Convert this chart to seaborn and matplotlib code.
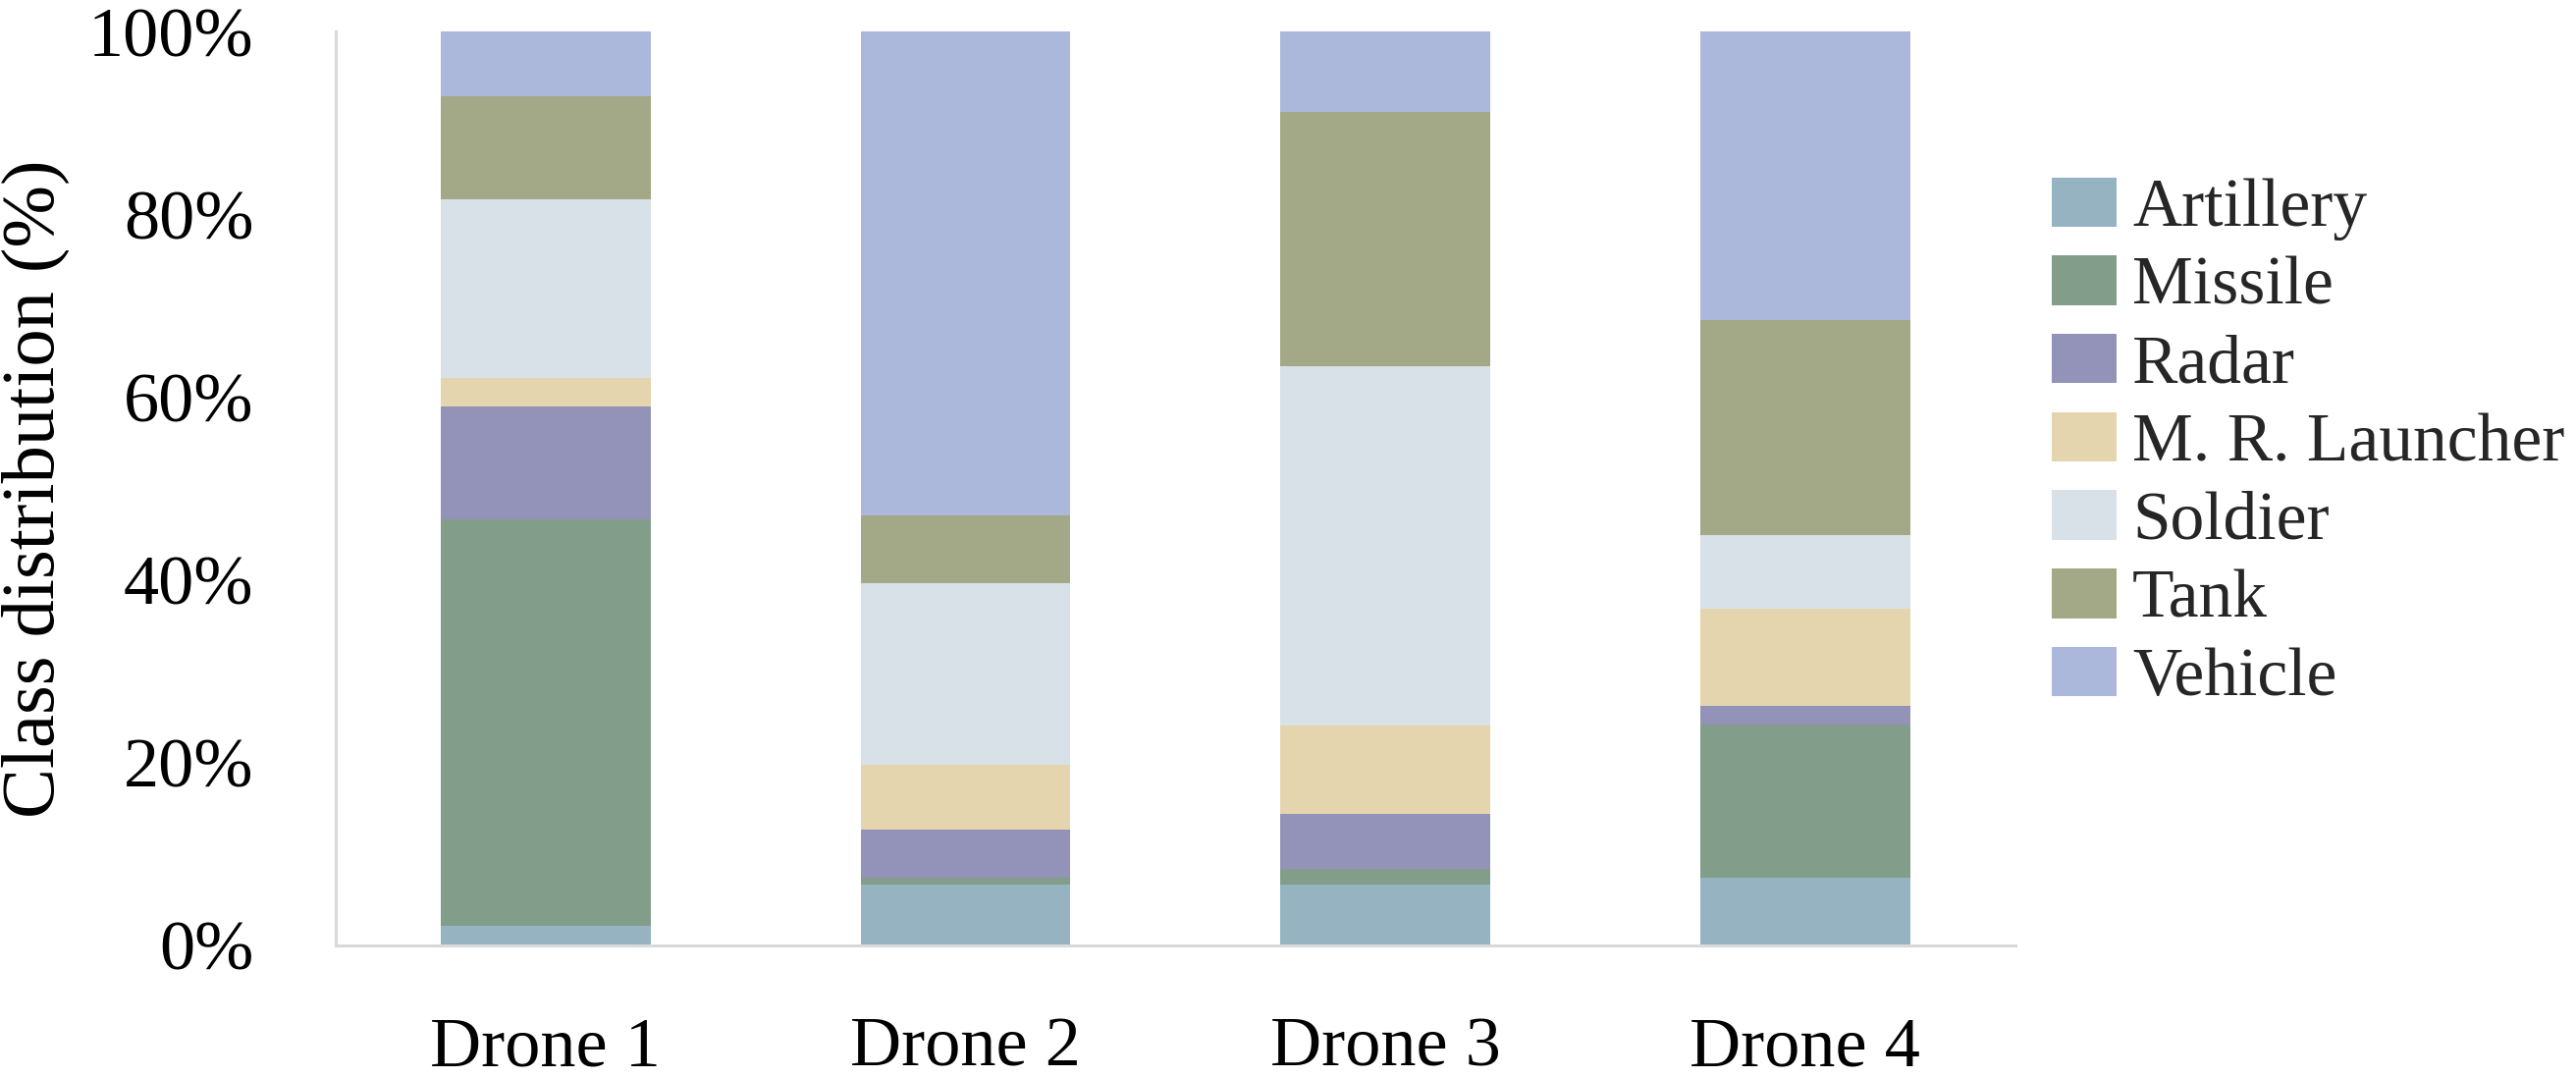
import numpy as np
import pandas as pd
import matplotlib
matplotlib.use("Agg")
import matplotlib.pyplot as plt
import seaborn as sns
from matplotlib.patches import Patch
from matplotlib.ticker import FuncFormatter

# 数据
drones = ["Drone 1", "Drone 2", "Drone 3", "Drone 4"]
classes = ["Artillery", "Missile", "Radar", "M. R. Launcher", "Soldier", "Tank", "Vehicle"]
artillery = [2.1, 6.7, 6.7, 7.4]
missile = [44.5, 0.7, 1.7, 16.8]
radar = [12.4, 5.3, 6.0, 2.0]
launcher = [3.1, 7.1, 9.7, 10.6]
soldier = [19.5, 19.8, 39.3, 8.1]
tank = [11.3, 7.4, 27.8, 23.5]
vehicle = [7.1, 53.0, 8.8, 31.6]
colors = ["#95B3C0", "#829E8B", "#9393B9", "#E5D5AF", "#D7E1E7", "#A3A886", "#ABB8DB"]

df = pd.DataFrame(
    [artillery, missile, radar, launcher, soldier, tank, vehicle],
    index=classes, columns=drones,
)
# 归一化到100%, 然后累加
df = df / df.sum(axis=0) * 100
cum = df.cumsum(axis=0)

sns.set_theme(style="white")
plt.rcParams["font.family"] = ["Liberation Serif", "DejaVu Serif"]

fs = 52
fig = plt.figure(figsize=(26.24, 10.97), dpi=100)
ax = fig.add_axes([0.1303, 0.1222, 0.652, 0.8486])

# 从上往下画累计柱, 后画的盖住前面的
for cls, col in reversed(list(zip(classes, colors))):
    sns.barplot(x=drones, y=cum.loc[cls].values, color=col, saturation=1,
                width=0.5, linewidth=0, ax=ax)

ax.set_xlim(-0.5, 3.5)
ax.set_ylim(0, 100)
ax.set_yticks(np.arange(0, 101, 20))
ax.yaxis.set_major_formatter(FuncFormatter(lambda v, p: f"{v:.0f}%"))

for s in ["top", "right"]:
    ax.spines[s].set_visible(False)
for s in ["left", "bottom"]:
    ax.spines[s].set_color("#D9D9D9")
    ax.spines[s].set_linewidth(2.2)

ax.tick_params(axis="y", direction="in", length=18, width=2.2, color="#D9D9D9",
               pad=60, labelsize=fs, labelcolor="black")
ax.tick_params(axis="x", length=0, pad=52, labelsize=fs, labelcolor="black")
ax.set_xlabel("")
ax.set_ylabel("Class distribution (%)", fontsize=55, color="black", labelpad=14)

handles = [Patch(facecolor=c, edgecolor="none", label=l) for l, c in zip(classes, colors)]
fig.legend(handles=handles, loc="center left", bbox_to_anchor=(0.786, 0.588),
           frameon=False, fontsize=50, handlelength=0.94, handleheight=0.74,
           handletextpad=0.24, labelspacing=0.22, borderaxespad=0)

fig.savefig("out.png", dpi=100)
